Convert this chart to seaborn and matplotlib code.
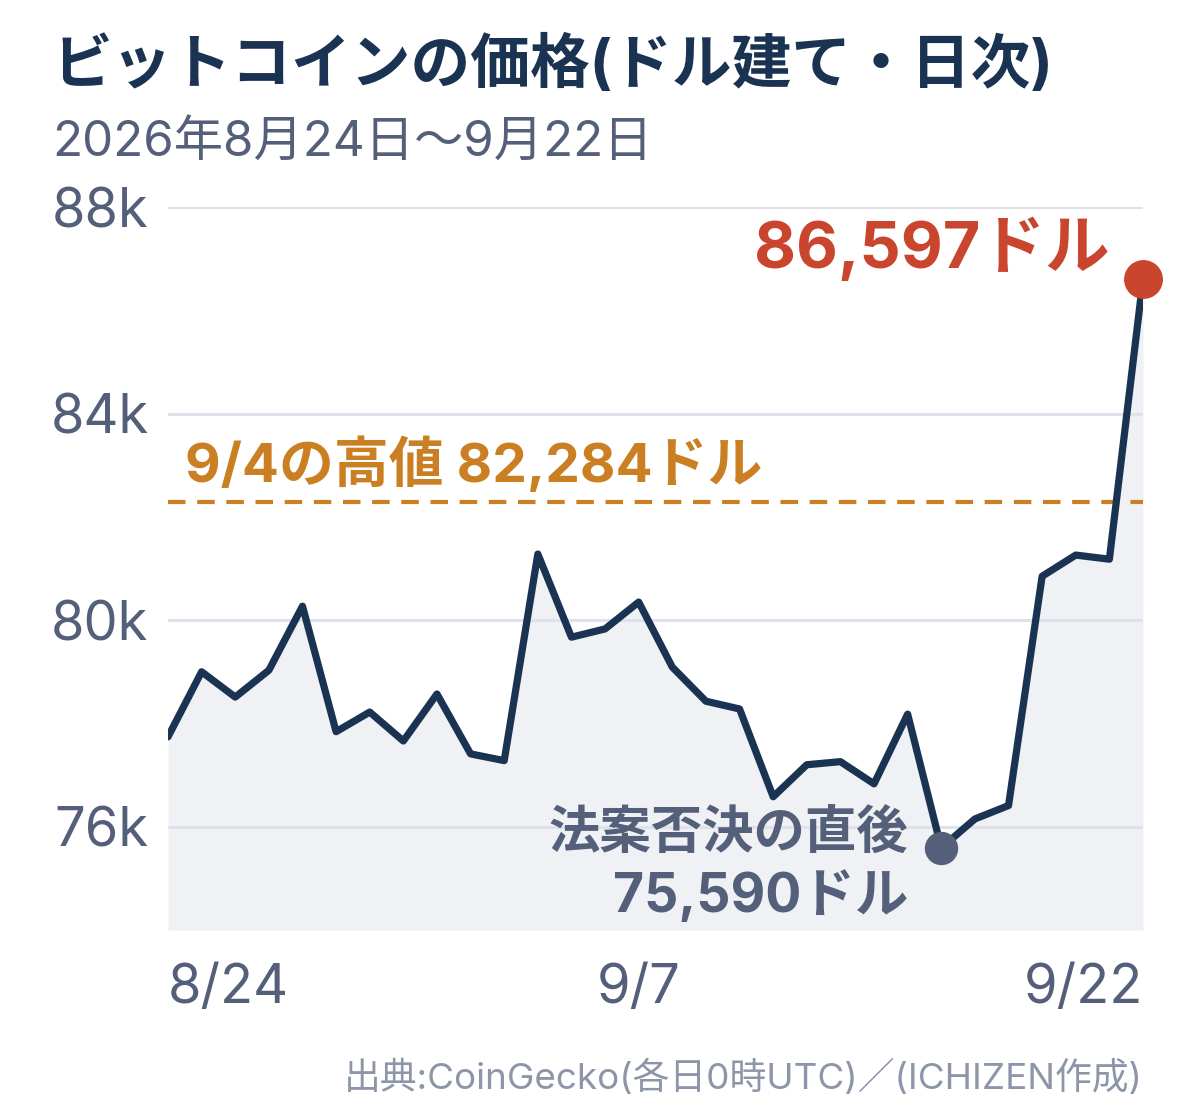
import numpy as np
import pandas as pd
import matplotlib
matplotlib.use("Agg")
import matplotlib.pyplot as plt
import seaborn as sns

# daily close (k USD), 2026-08-24 .. 2026-09-22
DATES = pd.date_range("2026-08-24", "2026-09-22", freq="D")
PRICE_K = [
    77.74, 79.00, 78.51, 79.03, 80.27, 77.84, 78.22, 77.66, 78.57, 77.41,
    77.28, 81.28, 79.67, 79.83, 80.35, 79.09, 78.43, 78.28, 76.58, 77.20,
    77.26, 76.83, 78.18, 75.590, 76.15, 76.41, 80.85, 81.26, 81.18, 86.597,
]
HIGH_K = 82.284
LOW_IDX = 23
Y_TICKS = [76, 80, 84, 88]
Y_LABELS = ["76k", "80k", "84k", "88k"]
X_TICKS = ["2026-08-24", "2026-09-07", "2026-09-22"]
X_LABELS = ["8/24", "9/7", "9/22"]

TITLE = "ビットコインの価格(ドル建て・日次)"
SUBTITLE = "2026年8月24日〜9月22日"
SOURCE = "出典:CoinGecko(各日0時UTC)／(ICHIZEN作成)"

NAVY = "#1b3352"
SLATE = "#545f7a"
LIGHT = "#8d95a8"
RED = "#c9452d"
ORANGE = "#c97f22"
FILL = "#eff1f4"
GRID = "#dfe2ea"

df = pd.DataFrame({"date": DATES, "price": PRICE_K})

sns.set_style("white")
plt.rcParams["font.family"] = ["Inter", "Noto Sans CJK JP", "DejaVu Sans"]

fig = plt.figure(figsize=(12, 11.2), dpi=100)
ax = fig.add_axes([168 / 1200, 1 - 930 / 1120, (1143 - 168) / 1200, (930 - 207) / 1120])

ax.fill_between(df["date"], df["price"], 74, color=FILL, lw=0, zorder=1)
for y in Y_TICKS:
    ax.axhline(y, color=GRID, lw=2.2, zorder=2)
ax.axhline(HIGH_K, color=ORANGE, lw=3, ls=(0, (4.2, 2.8)), zorder=3)
sns.lineplot(data=df, x="date", y="price", color=NAVY, lw=5.2, ax=ax, zorder=4)

last = df.iloc[-1]
low = df.iloc[LOW_IDX]
ax.plot([last["date"]], [last["price"]], "o", ms=27, color=RED, zorder=5, clip_on=False)
ax.plot([low["date"]], [low["price"]], "o", ms=23, color=SLATE, zorder=5, clip_on=False)

ax.annotate(f"{int(round(last['price'] * 1000)):,}ドル", (last["date"], last["price"]),
            xytext=(-24, 22), textcoords="offset points", ha="right", va="center",
            fontsize=46.5, fontweight="bold", color=RED)
ax.annotate(f"9/4の高値 {int(round(HIGH_K * 1000)):,}ドル", (df["date"].iloc[0], HIGH_K),
            xytext=(12, 27), textcoords="offset points", ha="left", va="center",
            fontsize=39.5, fontweight="bold", color=ORANGE)
ax.annotate("法案否決の直後", (low["date"], low["price"]),
            xytext=(-24, 10), textcoords="offset points", ha="right", va="center",
            fontsize=37, fontweight="bold", color=SLATE)
ax.annotate(f"{int(round(low['price'] * 1000)):,}ドル", (low["date"], low["price"]),
            xytext=(-24, -35), textcoords="offset points", ha="right", va="center",
            fontsize=38.5, fontweight="bold", color=SLATE)

ax.set_xlim(df["date"].iloc[0], df["date"].iloc[-1])
ax.set_ylim(74, 88)
ax.set_yticks(Y_TICKS)
ax.set_yticklabels(Y_LABELS)
ax.set_xticks(pd.to_datetime(X_TICKS))
ax.set_xticklabels(X_LABELS)
ax.tick_params(axis="y", length=0, pad=14, labelsize=39, labelcolor=SLATE)
ax.tick_params(axis="x", length=0, pad=24, labelsize=39, labelcolor=SLATE)
xt = ax.get_xticklabels()
xt[0].set_ha("left")
xt[-1].set_ha("right")
ax.set_xlabel("")
ax.set_ylabel("")
sns.despine(ax=ax, left=True, bottom=True)
ax.grid(False)

fig.text(52 / 1200, 1 - 65 / 1120, TITLE, fontsize=43, fontweight="bold",
         color=NAVY, ha="left", va="center")
fig.text(52 / 1200, 1 - 143 / 1120, SUBTITLE, fontsize=35.5, color=SLATE,
         ha="left", va="center")
fig.text(1143 / 1200, 1 - 1078 / 1120, SOURCE, fontsize=26.5, color=LIGHT,
         ha="right", va="center")

fig.savefig("out.png", dpi=100, facecolor="white")
